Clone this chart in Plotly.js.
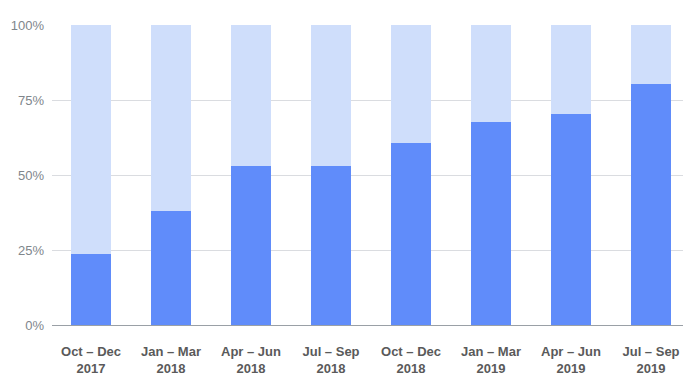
<!DOCTYPE html>
<html>
<head>
<meta charset="utf-8">
<script src="https://cdn.plot.ly/plotly-3.0.1.min.js"></script>
<style>html,body{margin:0;padding:0;background:#fff;}#chart{width:696px;height:384px;}</style>
</head>
<body>
<div id="chart"></div>
<script>
const categories = ["Oct – Dec<br>2017","Jan – Mar<br>2018","Apr – Jun<br>2018","Jul – Sep<br>2018","Oct – Dec<br>2018","Jan – Mar<br>2019","Apr – Jun<br>2019","Jul – Sep<br>2019"];
const shareValues = [23.7, 38, 53, 53, 60.7, 67.7, 70.3, 80.3];
const remainderValues = [76.3, 62, 47, 47, 39.3, 32.3, 29.7, 19.7];
const yTickVals = [0, 25, 50, 75, 100];
const yTickText = ["0%", "25%", "50%", "75%", "100%"];

const traces = [
  {type:'bar', x: categories, y: shareValues, marker:{color:'#608cfa'}, hoverinfo:'none'},
  {type:'bar', x: categories, y: remainderValues, marker:{color:'#cfdefb'}, hoverinfo:'none'}
];
const layout = {
  width:696, height:384,
  margin:{l:52, r:13, t:25, b:59},
  barmode:'stack', bargap:0.5, showlegend:false,
  paper_bgcolor:'#fff', plot_bgcolor:'#fff',
  font:{family:'"Liberation Sans", Arial, sans-serif'},
  xaxis:{type:'category', range:[-0.4875, 7.4], showgrid:false, zeroline:false, showline:false,
    tickfont:{size:13, color:'#5a5a5a', weight:'bold'}, ticks:'', ticklen:0, ticklabelstandoff:17},
  yaxis:{range:[0,100], tickvals:yTickVals, ticktext:yTickText, showgrid:true, gridcolor:'#dadce0', gridwidth:1,
    zeroline:true, zerolinecolor:'#9aa0a6', zerolinewidth:1, showline:false,
    tickfont:{size:13, color:'#80868b'}, ticks:'', ticklen:0, ticklabelstandoff:7}
};
Plotly.newPlot('chart', traces, layout, {displayModeBar:false, staticPlot:true});
</script>
</body>
</html>
